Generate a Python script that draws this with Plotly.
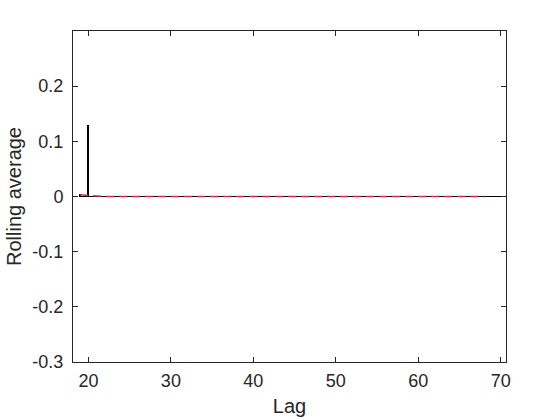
import plotly.graph_objects as go

# Data
lags = list(range(19, 71))
values = [0.004, 0.13] + [0.0] * (len(lags) - 2)
roll_lags = list(range(19, 69))
roll_values = [0.003, 0.002] + [0.0] * (len(roll_lags) - 2)
x_ticks = [20, 30, 40, 50, 60, 70]
y_ticks = [-0.3, -0.2, -0.1, 0, 0.1, 0.2]
y_tick_text = ["-0.3", "-0.2", "-0.1", "0", "0.1", "0.2"]
x_range = [18.13, 70.64]
y_range = [-0.3, 0.3]

axis_color = "#262626"
font_family = "Liberation Sans, Arial, sans-serif"

fig = go.Figure()

# Zero baseline of the series
fig.add_trace(go.Scatter(
    x=[lags[0], x_range[1]], y=[0, 0], mode="lines",
    line=dict(color="black", width=1), showlegend=False, hoverinfo="skip"))

# Series bars
fig.add_trace(go.Bar(
    x=lags, y=values, width=0.22,
    marker=dict(color="black", line=dict(width=0)),
    showlegend=False))

# Rolling average dashed line
fig.add_trace(go.Scatter(
    x=roll_lags, y=roll_values, mode="lines",
    line=dict(color="#e0245e", width=1.5, dash="8px,5px"),
    showlegend=False))

axis_common = dict(
    showline=True, linecolor=axis_color, linewidth=1, mirror="allticks",
    ticks="inside", ticklen=5, tickcolor=axis_color, tickwidth=1,
    showgrid=False, zeroline=False, automargin=False,
    tickfont=dict(family=font_family, size=18, color=axis_color),
)

fig.update_layout(
    width=560, height=420,
    margin=dict(l=73, r=54, t=31, b=58),
    paper_bgcolor="white", plot_bgcolor="white",
    bargap=0,
    xaxis=dict(range=x_range, tickvals=x_ticks, ticklabelstandoff=2,
               title=dict(text="Lag", font=dict(family=font_family, size=20, color=axis_color), standoff=9),
               **axis_common),
    yaxis=dict(range=y_range, tickvals=y_ticks, ticktext=y_tick_text, ticklabelstandoff=5,
               title=dict(text="Rolling average", font=dict(family=font_family, size=20, color=axis_color), standoff=5),
               **axis_common),
)

fig.write_html("out.html", config={"displayModeBar": False},
               post_script="document.body.style.margin='0';")
